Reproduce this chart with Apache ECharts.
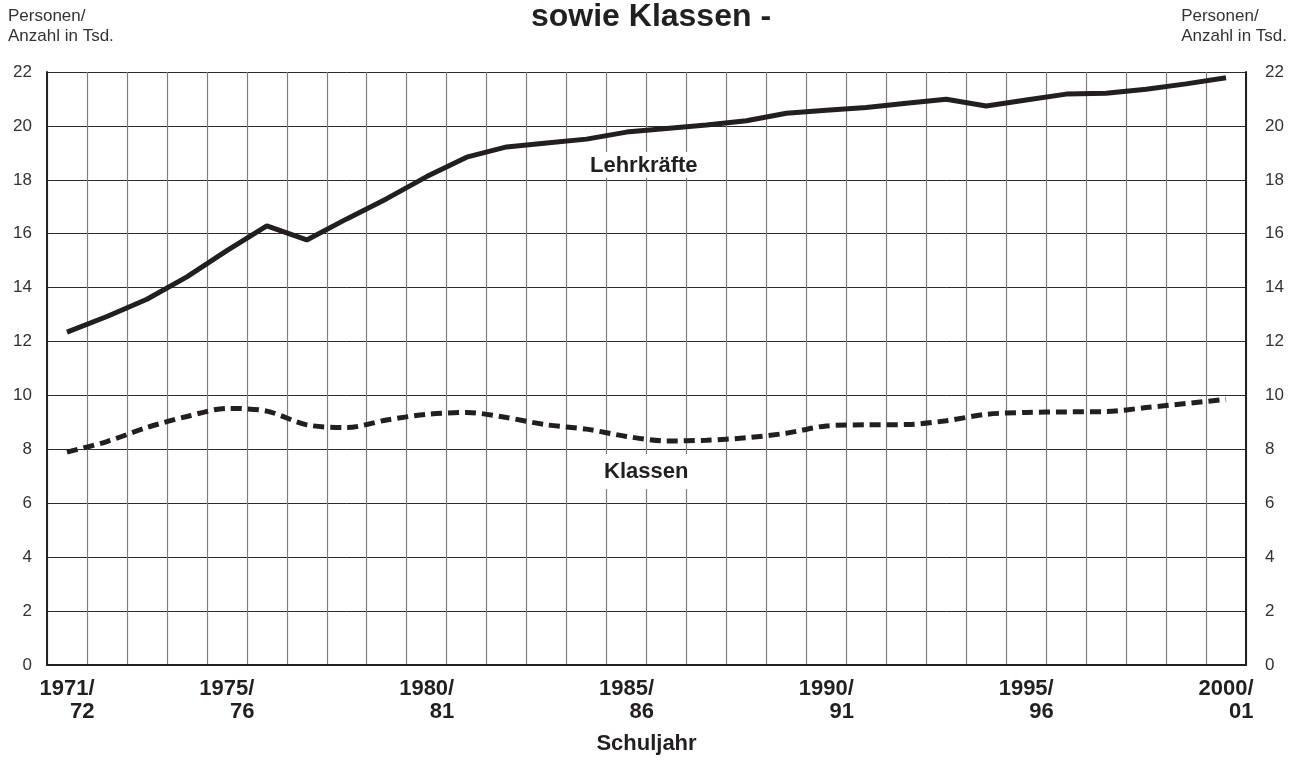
<!DOCTYPE html>
<html>
<head>
<meta charset="utf-8">
<script src="https://cdn.jsdelivr.net/npm/echarts@6/dist/echarts.min.js"></script>
<style>
  html, body { margin: 0; padding: 0; background: #fff; }
  #chart { width: 1302px; height: 760px; }
</style>
</head>
<body>
<div id="chart"></div>
<script>
var schuljahre = ['1971/72','1972/73','1973/74','1974/75','1975/76','1976/77','1977/78','1978/79','1979/80','1980/81',
  '1981/82','1982/83','1983/84','1984/85','1985/86','1986/87','1987/88','1988/89','1989/90','1990/91',
  '1991/92','1992/93','1993/94','1994/95','1995/96','1996/97','1997/98','1998/99','1999/00','2000/01'];
var lehrkraefte = [12.35, 12.93, 13.57, 14.4, 15.37, 16.29, 15.77, 16.55, 17.3, 18.12,
  18.84, 19.22, 19.37, 19.51, 19.77, 19.9, 20.03, 20.19, 20.47, 20.58,
  20.68, 20.84, 20.99, 20.74, 20.96, 21.18, 21.21, 21.36, 21.56, 21.79];
var klassen = [7.9, 8.29, 8.81, 9.22, 9.52, 9.42, 8.91, 8.81, 9.09, 9.3,
  9.37, 9.18, 8.91, 8.75, 8.48, 8.31, 8.34, 8.43, 8.6, 8.87,
  8.91, 8.92, 9.06, 9.3, 9.37, 9.39, 9.4, 9.55, 9.7, 9.86];
var beschriftet = [0, 4, 9, 14, 19, 24, 29];

var font = '"Liberation Sans", Arial, Helvetica, sans-serif';
var ink = '#231f20';

function initChart() {
    var myChart = echarts.init(document.getElementById('chart'));
    var option = {
        backgroundColor: '#fff',
        animation: false,
        textStyle: { fontFamily: font },
        title: {
            text: 'sowie Klassen -',
            left: 'center',
            top: -4,
            textStyle: { fontFamily: font, fontSize: 32, fontWeight: 'bold', color: ink }
        },
        grid: { left: 47, right: 56, top: 72, bottom: 92, containLabel: false },
        xAxis: {
            type: 'category',
            data: schuljahre,
            boundaryGap: true,
            name: 'Schuljahr',
            nameLocation: 'middle',
            nameGap: 68,
            nameTextStyle: { fontFamily: font, fontSize: 22, fontWeight: 'bold', color: ink },
            axisLine: { show: true, lineStyle: { color: ink, width: 2 } },
            axisTick: { show: false },
            splitLine: { show: true, interval: 0, lineStyle: { color: '#7d7d7d', width: 1.2 } },
            axisLabel: {
                interval: function (index) { return beschriftet.indexOf(index) >= 0; },
                margin: 12,
                formatter: function (v) {
                    var p = v.split('/');
                    return '{a|' + p[0] + '/}\n{b|' + p[1] + '}';
                },
                rich: {
                    a: { fontFamily: font, fontSize: 22, fontWeight: 'bold', color: ink, lineHeight: 23 },
                    b: { fontFamily: font, fontSize: 22, fontWeight: 'bold', color: ink, lineHeight: 23, align: 'right' }
                }
            }
        },
        yAxis: [{
            type: 'value',
            min: 0, max: 22, interval: 2,
            position: 'left',
            axisLine: { show: true, lineStyle: { color: ink, width: 2 } },
            axisTick: { show: false },
            splitLine: { show: true, lineStyle: { color: '#2a2a2a', width: 1 } },
            axisLabel: { margin: 15, fontFamily: font, fontSize: 17, color: '#333' }
        }, {
            type: 'value',
            min: 0, max: 22, interval: 2,
            position: 'right',
            axisLine: { show: true, lineStyle: { color: ink, width: 2 } },
            axisTick: { show: false },
            splitLine: { show: false },
            axisLabel: { margin: 19, fontFamily: font, fontSize: 17, color: '#333' }
        }],
        series: [{
            name: 'Lehrkräfte',
            type: 'line',
            data: lehrkraefte,
            symbol: 'none',
            lineStyle: { color: ink, width: 5 }
        }, {
            name: 'Klassen',
            type: 'line',
            data: klassen,
            symbol: 'none',
            smooth: 0.3,
            lineStyle: { color: ink, width: 5, type: [11, 6] }
        }],
        graphic: [{
            type: 'text', left: 8, top: 6,
            style: { text: 'Personen/\nAnzahl in Tsd.', fontFamily: font, fontSize: 17, lineHeight: 20, fill: '#333' }
        }, {
            type: 'text', right: 15, top: 6,
            style: { text: 'Personen/\nAnzahl in Tsd.', fontFamily: font, fontSize: 17, lineHeight: 20, fill: '#333', align: 'right' }
        }, {
            type: 'text', left: 585, top: 152, z: 10,
            style: { text: 'Lehrkräfte', fontFamily: font, fontSize: 22, fontWeight: 'bold', fill: ink,
                backgroundColor: '#fff', padding: [3, 5, 1, 5] }
        }, {
            type: 'text', left: 599, top: 454, z: 10,
            style: { text: 'Klassen', fontFamily: font, fontSize: 22, fontWeight: 'bold', fill: ink,
                backgroundColor: '#fff', padding: [7, 5, 6, 5] }
        }]
    };
    myChart.setOption(option);
}
initChart();
</script>
</body>
</html>
